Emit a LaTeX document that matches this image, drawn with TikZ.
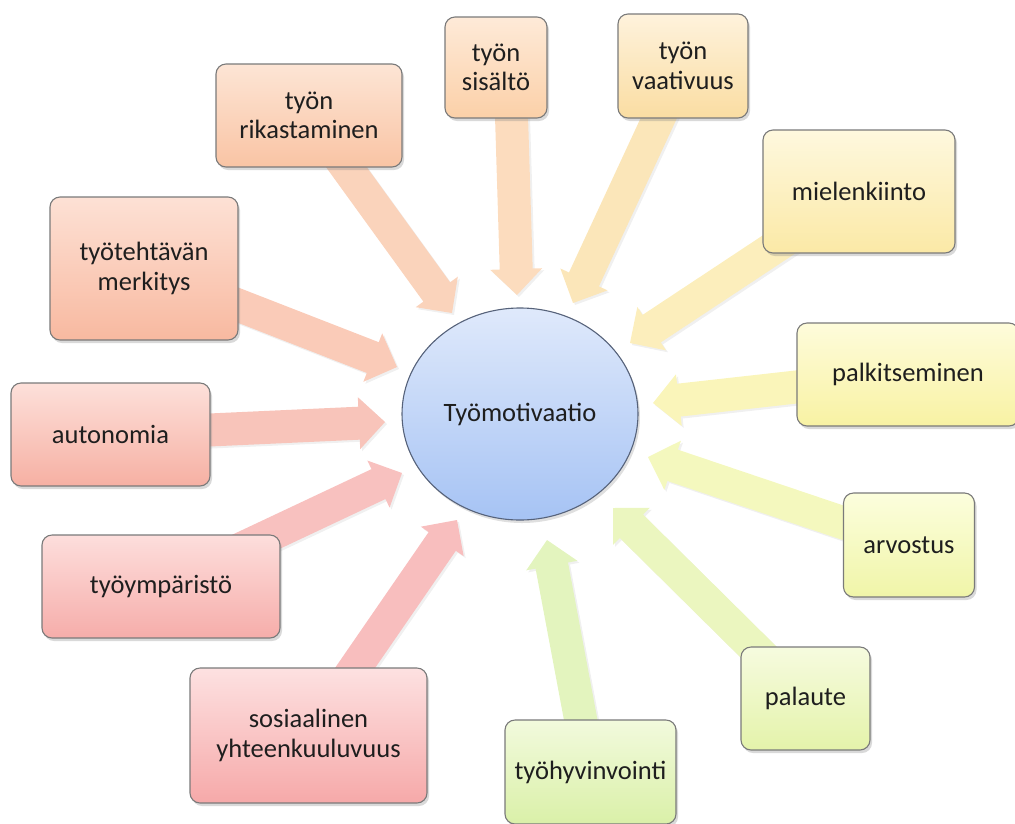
\documentclass[tikz,border=0pt]{standalone}
\usepackage{fontspec}
\setmainfont{Carlito}
\usetikzlibrary{calc,shapes.geometric,shadows}
\pgfdeclarelayer{background}
\pgfsetlayers{background,main}

% box colours (top / bottom)
\definecolor{c1t}{HTML}{FDE5D5}\definecolor{c1b}{HTML}{F9C4A4}
\definecolor{c2t}{HTML}{FEEAD8}\definecolor{c2b}{HTML}{FBD0A8}
\definecolor{c3t}{HTML}{FEF2DC}\definecolor{c3b}{HTML}{FADDA2}
\definecolor{c4t}{HTML}{FEF8DE}\definecolor{c4b}{HTML}{FBE9A6}
\definecolor{c5t}{HTML}{FEFCDB}\definecolor{c5b}{HTML}{F8F2A3}
\definecolor{c6t}{HTML}{FCFEDD}\definecolor{c6b}{HTML}{F0F5A8}
\definecolor{c7t}{HTML}{F6FBDF}\definecolor{c7b}{HTML}{E4F3AA}
\definecolor{c8t}{HTML}{F2FADD}\definecolor{c8b}{HTML}{DAF0A8}
\definecolor{c9t}{HTML}{FDE1E1}\definecolor{c9b}{HTML}{F6A9A9}
\definecolor{c10t}{HTML}{FDDEDC}\definecolor{c10b}{HTML}{F6ADAA}
\definecolor{c11t}{HTML}{FDE0DA}\definecolor{c11b}{HTML}{F6B0A3}
\definecolor{c12t}{HTML}{FDE1D5}\definecolor{c12b}{HTML}{F8B9A0}
\definecolor{circt}{HTML}{DFE9FB}\definecolor{circb}{HTML}{A6C3F4}
\definecolor{circline}{HTML}{56627A}
\definecolor{boxline}{HTML}{7A7A7A}
\definecolor{txt}{HTML}{1E1E1E}

\tikzset{
  topic/.style={draw=boxline, line width=1.1pt, rounded corners=10pt,
    inner sep=0pt, align=center, text=txt,
    font=\fontsize{26.5}{29.5}\selectfont,
    drop shadow={opacity=0.3, shadow xshift=2pt, shadow yshift=-3pt}},
  hub/.style={ellipse, draw=circline, line width=1.1pt, inner sep=0pt,
    top color=circt, bottom color=circb, text=txt,
    font=\fontsize{26.5}{29.5}\selectfont,
    drop shadow={opacity=0.25, shadow xshift=2pt, shadow yshift=-3pt}},
  blockarrow/.style={draw=none,
    drop shadow={opacity=0.12, shadow xshift=2pt, shadow yshift=-2pt}}
}

% #1 start, #2 tip, #3 colour
\newcommand\blockarr[3]{%
  \coordinate (hh) at ($(#2)!26pt!(#1)$);
  \path[blockarrow, fill=#3]
    ($(#1)!16.5pt!90:(#2)$) -- ($(hh)!16.5pt!-90:(#1)$) --
    ($(hh)!26pt!-90:(#1)$) -- (#2) -- ($(hh)!26pt!90:(#1)$) --
    ($(hh)!16.5pt!90:(#1)$) -- ($(#1)!16.5pt!-90:(#2)$) -- cycle;
}

\begin{document}
\begin{tikzpicture}[x=1pt,y=-1pt]
\useasboundingbox (0,0) rectangle (1015,823);

\node[hub, minimum width=236pt, minimum height=212pt] (c) at (520,414) {Työmotivaatio};

\node[topic, top color=c1t, bottom color=c1b, minimum width=186pt, minimum height=103pt] (b1) at (309,115.5) {työn\\rikastaminen};
\node[topic, top color=c2t, bottom color=c2b, minimum width=102pt, minimum height=101pt] (b2) at (496,67.5) {työn\\sisältö};
\node[topic, top color=c3t, bottom color=c3b, minimum width=130pt, minimum height=104pt] (b3) at (683,66) {työn\\vaativuus};
\node[topic, top color=c4t, bottom color=c4b, minimum width=192pt, minimum height=123pt] (b4) at (859,191.5) {mielenkiinto};
\node[topic, top color=c5t, bottom color=c5b, minimum width=222pt, minimum height=103pt] (b5) at (908,374.5) {palkitseminen};
\node[topic, top color=c6t, bottom color=c6b, minimum width=131pt, minimum height=104pt] (b6) at (909,545) {arvostus};
\node[topic, top color=c7t, bottom color=c7b, minimum width=129pt, minimum height=103pt] (b7) at (805.5,698.5) {palaute};
\node[topic, top color=c8t, bottom color=c8b, minimum width=171pt, minimum height=104pt] (b8) at (590.5,772) {työhyvinvointi};
\node[topic, top color=c9t, bottom color=c9b, minimum width=237pt, minimum height=135pt] (b9) at (308.5,735.5) {sosiaalinen\\yhteenkuuluvuus};
\node[topic, top color=c10t, bottom color=c10b, minimum width=238pt, minimum height=103pt] (b10) at (161,586.5) {työympäristö};
\node[topic, top color=c11t, bottom color=c11b, minimum width=199pt, minimum height=103pt] (b11) at (110.5,434.5) {autonomia};
\node[topic, top color=c12t, bottom color=c12b, minimum width=188pt, minimum height=143pt] (b12) at (144,268.5) {työtehtävän\\merkitys};

% arrow tips near the hub
\coordinate (s2) at (510,67);
\coordinate (t1) at (452,313);
\coordinate (t2) at (517,295);
\coordinate (t3) at (573,303);
\coordinate (t4) at (630,343);
\coordinate (t5) at (653,403);
\coordinate (t6) at (648,457);
\coordinate (t7) at (613,508);
\coordinate (t8) at (547,540);
\coordinate (t9) at (457,520);
\coordinate (t10) at (402,473);
\coordinate (t11) at (385,422);
\coordinate (t12) at (397,367);

\begin{pgfonlayer}{background}
\blockarr{b1.center}{t1}{c1b!75!white}
\blockarr{s2}{t2}{c2b!75!white}
\blockarr{b3.center}{t3}{c3b!75!white}
\blockarr{b4.center}{t4}{c4b!75!white}
\blockarr{b5.center}{t5}{c5b!75!white}
\blockarr{b6.center}{t6}{c6b!75!white}
\blockarr{b7.center}{t7}{c7b!75!white}
\blockarr{b8.center}{t8}{c8b!75!white}
\blockarr{b9.center}{t9}{c9b!75!white}
\blockarr{b10.center}{t10}{c10b!75!white}
\blockarr{b11.center}{t11}{c11b!75!white}
\blockarr{b12.center}{t12}{c12b!75!white}
\end{pgfonlayer}
\end{tikzpicture}
\end{document}
